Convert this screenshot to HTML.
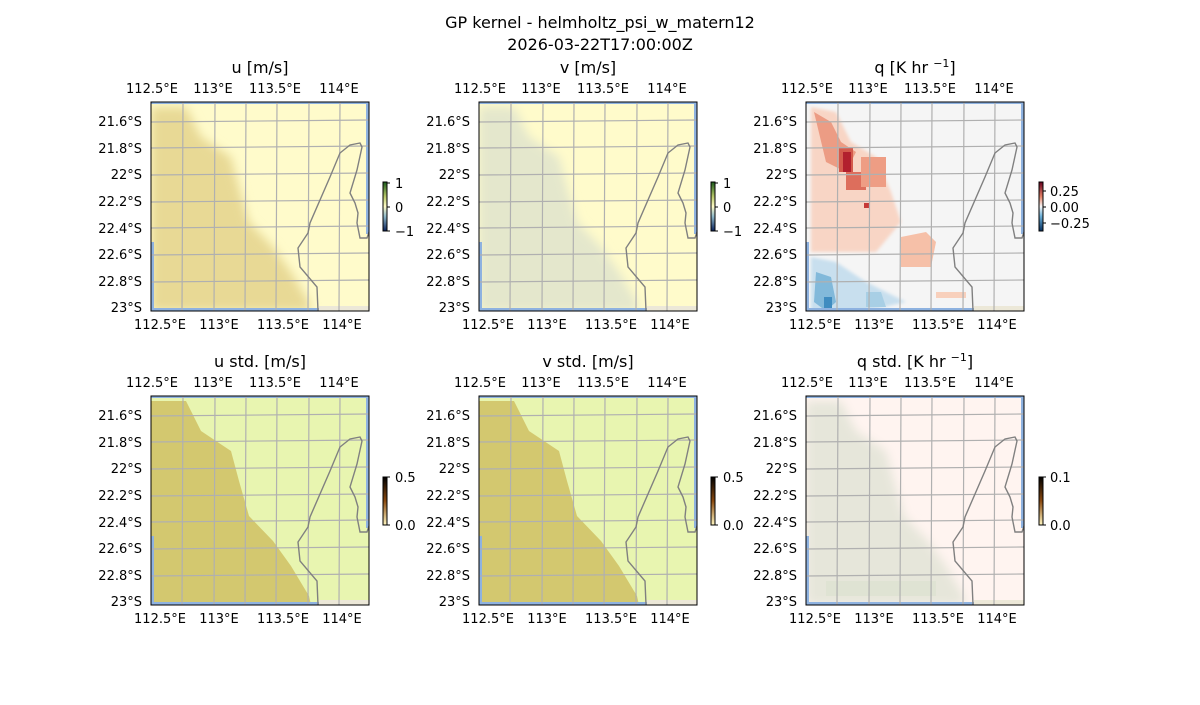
<!DOCTYPE html>
<html><head><meta charset="utf-8"><style>
body{margin:0;background:#fff;}
svg text{font-family:"DejaVu Sans","Liberation Sans",sans-serif;fill:#000;}
</style></head><body>
<svg width="1200" height="700" viewBox="0 0 1200 700" xmlns="http://www.w3.org/2000/svg">
<defs>
<filter id="bl" x="-10%" y="-10%" width="120%" height="120%"><feGaussianBlur stdDeviation="5"/></filter>
<filter id="bl2"><feGaussianBlur stdDeviation="1.5"/></filter>
<clipPath id="cp"><rect x="0" y="0" width="218" height="209"/></clipPath>
<linearGradient id="cbu" x1="0" y1="0" x2="0" y2="1"><stop offset="0" stop-color="#1a5a1a"/><stop offset="0.3" stop-color="#b8c86a"/><stop offset="0.5" stop-color="#fffbc8"/><stop offset="0.7" stop-color="#8fb8c8"/><stop offset="1" stop-color="#08205a"/></linearGradient>
<linearGradient id="cbq" x1="0" y1="0" x2="0" y2="1"><stop offset="0" stop-color="#67001f"/><stop offset="0.3" stop-color="#e58267"/><stop offset="0.5" stop-color="#f7f7f7"/><stop offset="0.7" stop-color="#6aaed6"/><stop offset="1" stop-color="#053061"/></linearGradient>
<linearGradient id="cbs" x1="0" y1="0" x2="0" y2="1"><stop offset="0" stop-color="#000"/><stop offset="0.5" stop-color="#8a4a10"/><stop offset="1" stop-color="#fff6c0"/></linearGradient>
<g id="grid" fill="none" stroke="#b0b0b0" stroke-width="1.2">
<path d="M32,0 L31,209 M64,0 L63,209 M95,0 L94,209 M126,0 L125,209 M158,0 L157,209 M189,0 L188,209"/>
<path d="M0,20 L218,18 M0,46 L218,44 M0,73 L218,71 M0,100 L218,98 M0,126 L218,124 M0,153 L218,151 M0,180 L218,178"/>
</g>
<g id="edge">
<rect x="0" y="0" width="218" height="2" fill="#8eb2e0"/>
<rect x="0" y="140" width="3" height="69" fill="#8eb2e0"/>
<rect x="215" y="0" width="3" height="132" fill="#8eb2e0"/>
<rect x="0" y="206" width="168" height="3" fill="#8eb2e0"/>
<rect x="168" y="204" width="50" height="5" fill="#ece8d8"/>
</g>
<path id="coast" fill="none" stroke="#808080" stroke-width="1.4" d="M167,209 L166,185 L149,165 L147,146 L157,131 L159,121 L179,75 L189,51 L199,43 L209,41 L211,45 L206,68 L199,91 L204,101 L207,111 L206,121 L209,136 L216,136 L218,130"/>
<polygon id="shape" points="0,5 35,5 50,35 80,55 88,85 98,120 122,145 140,170 158,200 160,209 0,209"/>
</defs>

<text x="600" y="28" font-size="16" text-anchor="middle">GP kernel - helmholtz_psi_w_matern12</text>
<text x="600" y="50" font-size="16" text-anchor="middle">2026-03-22T17:00:00Z</text>

<g>
<g transform="translate(151,102)">
<g clip-path="url(#cp)">
<rect width="218" height="209" fill="#fffbcb"/>
<use href="#shape" fill="#e8d995" filter="url(#bl)"/>
<use href="#edge"/><use href="#grid"/><use href="#coast"/></g>
<rect width="218" height="209" fill="none" stroke="#000"/>
</g>
<g transform="translate(479,102)">
<g clip-path="url(#cp)">
<rect width="218" height="209" fill="#fffbcb"/>
<use href="#shape" fill="#e4e7cc" filter="url(#bl)"/>
<use href="#edge"/><use href="#grid"/><use href="#coast"/></g>
<rect width="218" height="209" fill="none" stroke="#000"/>
</g>
<g transform="translate(806,102)">
<g clip-path="url(#cp)">
<rect width="218" height="209" fill="#f5f5f5"/>
<polygon points="5,5 30,10 45,40 70,55 85,90 95,120 70,150 5,150" fill="#f8d5c5" filter="url(#bl2)"/>
<polygon points="8,10 25,20 35,40 50,50 40,70 20,60" fill="#ec9c84"/>
<rect x="33" y="45" width="14" height="25" fill="#d45a4c"/>
<rect x="37" y="50" width="8" height="20" fill="#b2202e"/>
<rect x="40" y="70" width="20" height="18" fill="#dd6e5c"/>
<rect x="55" y="55" width="25" height="30" fill="#ee9d84"/>
<rect x="58" y="101" width="5" height="5" fill="#c53a38"/>
<polygon points="95,135 120,130 130,140 125,165 95,165" fill="#f6c0a8"/>
<polygon points="5,155 30,160 60,180 80,190 100,200 60,209 5,209" fill="#c8dfee" filter="url(#bl2)"/>
<polygon points="10,170 25,175 30,200 20,209 8,200" fill="#82b9da"/>
<rect x="18" y="195" width="8" height="12" fill="#3f8cc0"/>
<polygon points="60,190 75,190 80,205 60,205" fill="#a8cfe5"/>
<rect x="130" y="190" width="30" height="6" fill="#f8d0bc"/>
<use href="#edge"/><use href="#grid"/><use href="#coast"/></g>
<rect width="218" height="209" fill="none" stroke="#000"/>
</g>
<g transform="translate(151,396)">
<g clip-path="url(#cp)">
<rect width="218" height="209" fill="#e8f5b0"/>
<use href="#shape" fill="#d3c86f"/>
<use href="#edge"/><use href="#grid"/><use href="#coast"/></g>
<rect width="218" height="209" fill="none" stroke="#000"/>
</g>
<g transform="translate(479,396)">
<g clip-path="url(#cp)">
<rect width="218" height="209" fill="#e8f5b0"/>
<use href="#shape" fill="#d3c86f"/>
<use href="#edge"/><use href="#grid"/><use href="#coast"/></g>
<rect width="218" height="209" fill="none" stroke="#000"/>
</g>
<g transform="translate(806,396)">
<g clip-path="url(#cp)">
<rect width="218" height="209" fill="#fff4f0"/>
<use href="#shape" fill="#e6e6da" filter="url(#bl)"/>
<rect x="20" y="185" width="110" height="15" fill="#dfe3d3"/>
<use href="#edge"/><use href="#grid"/><use href="#coast"/></g>
<rect width="218" height="209" fill="none" stroke="#000"/>
</g>
</g>

<g font-size="16" text-anchor="middle">
<text x="260" y="73">u [m/s]</text>
<text x="588" y="73">v [m/s]</text>
<text x="915" y="73">q [K hr <tspan font-size="11" dy="-6">−1</tspan><tspan dy="6">]</tspan></text>
<text x="260" y="367">u std. [m/s]</text>
<text x="588" y="367">v std. [m/s]</text>
<text x="915" y="367">q std. [K hr <tspan font-size="11" dy="-6">−1</tspan><tspan dy="6">]</tspan></text>
</g>

<g font-size="13">
<g id="p1lab">
<g text-anchor="middle">
<text x="152" y="93">112.5°E</text><text x="213" y="93">113°E</text><text x="275" y="93">113.5°E</text><text x="339" y="93">114°E</text>
<text x="160" y="329">112.5°E</text><text x="219" y="329">113°E</text><text x="283" y="329">113.5°E</text><text x="342" y="329">114°E</text>
</g>
<g text-anchor="end">
<text x="142" y="126">21.6°S</text><text x="142" y="153">21.8°S</text><text x="142" y="179">22°S</text><text x="142" y="206">22.2°S</text><text x="142" y="233">22.4°S</text><text x="142" y="259">22.6°S</text><text x="142" y="286">22.8°S</text><text x="142" y="312">23°S</text>
</g>
</g>
<use href="#p1lab" x="328"/><use href="#p1lab" x="655"/>
<use href="#p1lab" y="294"/><use href="#p1lab" x="328" y="294"/><use href="#p1lab" x="655" y="294"/>
</g>

<g font-size="13" stroke-width="1">
<g id="cbu1">
<rect x="383" y="182" width="4" height="49" fill="url(#cbu)" stroke="#000"/>
<path d="M387,183 h3 M387,207 h3 M387,231 h3" stroke="#000"/>
<text x="395" y="188">1</text><text x="395" y="212">0</text><text x="395" y="236">−1</text>
</g>
<use href="#cbu1" x="328"/>
<rect x="1039" y="182" width="4" height="49" fill="url(#cbq)" stroke="#000"/>
<path d="M1043,191 h3 M1043,207 h3 M1043,223 h3" stroke="#000"/>
<text x="1050" y="196">0.25</text><text x="1050" y="212">0.00</text><text x="1050" y="228">−0.25</text>
<g id="cbs1">
<rect x="383" y="477" width="4" height="48" fill="url(#cbs)" stroke="#000"/>
<path d="M387,477 h3 M387,525 h3" stroke="#000"/>
<text x="395" y="482">0.5</text><text x="395" y="530">0.0</text>
</g>
<use href="#cbs1" x="328"/>
<rect x="1039" y="477" width="4" height="48" fill="url(#cbs)" stroke="#000"/>
<path d="M1043,477 h3 M1043,525 h3" stroke="#000"/>
<text x="1050" y="482">0.1</text><text x="1050" y="530">0.0</text>
</g>
</svg>
</body></html>
